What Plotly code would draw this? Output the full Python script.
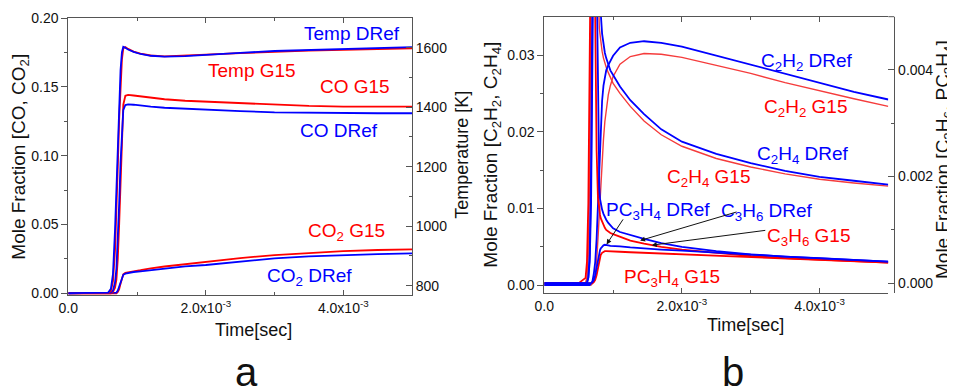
import plotly.graph_objects as go

W, H = 955, 390
OFF = 8  # browser body margin that offsets the figure inside the page
FW, FH = W - OFF, H - OFF
FONT = "Liberation Sans, Arial, sans-serif"
BLUE = "#0000ff"
RED = "#ff0000"
RED2 = "#f53c3c"

# ---------------- panel a data (time in ms) ----------------
t_a_ms = [0, 0.5, 0.58, 0.62, 0.65, 0.68, 0.70, 0.72, 0.74, 0.76, 0.78, 0.80, 0.83, 0.87,
          0.95, 1.05, 1.2, 1.4, 1.7, 2.0, 2.5, 3.0, 3.5, 4.0, 4.5, 5.0]
temp_dref = [775, 775, 777, 790, 840, 990, 1120, 1280, 1420, 1525, 1585, 1603, 1600, 1594,
             1586, 1579, 1573, 1570, 1572, 1577, 1583, 1589, 1592, 1595, 1599, 1602]
temp_g15 = [775, 775, 776, 782, 815, 920, 1040, 1200, 1360, 1480, 1560, 1598, 1602, 1596,
            1587, 1580, 1574, 1571, 1573, 1577, 1582, 1587, 1590, 1593, 1596, 1598]
co_dref = [0, 0, 0, 0.0005, 0.002, 0.008, 0.018, 0.038, 0.065, 0.095, 0.12, 0.133, 0.1368, 0.1373,
           0.137, 0.1363, 0.1356, 0.1348, 0.134, 0.1333, 0.1323, 0.1315, 0.1311, 0.1308, 0.1308, 0.1308]
co_g15 = [0, 0, 0, 0, 0.001, 0.004, 0.010, 0.025, 0.05, 0.085, 0.118, 0.137, 0.1435, 0.1441,
          0.1437, 0.143, 0.1421, 0.141, 0.1399, 0.1392, 0.138, 0.1368, 0.1361, 0.1356, 0.1356, 0.1356]
co2_dref = [0, 0, 0, 0, 0, 0, 0.0005, 0.002, 0.005, 0.009, 0.012, 0.0135, 0.0143, 0.0148,
            0.0155, 0.016, 0.0169, 0.0181, 0.0196, 0.0206, 0.0232, 0.0254, 0.0268, 0.0278, 0.0285, 0.029]
co2_g15 = [0, 0, 0, 0, 0, 0, 0, 0.001, 0.003, 0.007, 0.011, 0.0138, 0.0148, 0.0153,
           0.016, 0.0168, 0.0182, 0.0195, 0.0213, 0.023, 0.0256, 0.0278, 0.0294, 0.0307, 0.0315, 0.032]

# ---------------- panel b data (time in ms) ----------------
t_b_ms = [0, 0.5, 0.60, 0.62, 0.64, 0.66, 0.68, 0.70, 0.72, 0.74, 0.76, 0.78, 0.79, 0.80, 0.81,
          0.82, 0.84, 0.86, 0.88, 0.90, 0.93, 0.96, 1.0, 1.1, 1.25, 1.45, 1.7, 2.0, 2.5, 3.0,
          3.5, 4.0, 4.5, 5.0]
c2h2_dref = [0, 0, 0, 0, 0, 0, 0.0002, 0.0005, 0.0015, 0.003, 0.006, 0.011, 0.014, 0.0165, 0.019,
             0.0212, 0.024, 0.026, 0.0272, 0.028, 0.0287, 0.0293, 0.0299, 0.0310, 0.0316, 0.0318,
             0.0316, 0.0311, 0.0299, 0.0287, 0.0275, 0.0263, 0.0252, 0.0242]
c2h2_g15 = [0, 0, 0, 0, 0, 0, 0, 0.0002, 0.0005, 0.0012, 0.003, 0.006, 0.0078, 0.0095, 0.0115,
            0.0135, 0.0165, 0.019, 0.0213, 0.023, 0.0248, 0.026, 0.0272, 0.0288, 0.0298, 0.0302,
            0.0301, 0.0297, 0.0287, 0.0276, 0.0264, 0.0253, 0.0243, 0.0233]
c2h4_dref = [0, 0, 0, 0.0003, 0.001, 0.004, 0.015, 0.04, 0.06, 0.065, 0.06, 0.05, 0.045, 0.041, 0.038,
             0.0355, 0.0328, 0.0313, 0.0303, 0.0296, 0.0287, 0.0280, 0.0274, 0.0259, 0.0241, 0.0223,
             0.0203, 0.0187, 0.0171, 0.0159, 0.0149, 0.0141, 0.0136, 0.0131]
c2h4_g15 = [0, 0, 0.0003, 0.001, 0.004, 0.015, 0.04, 0.06, 0.062, 0.055, 0.047, 0.039, 0.035, 0.0335,
            0.0327, 0.0319, 0.0305, 0.0296, 0.0288, 0.0284, 0.0277, 0.0271, 0.0263, 0.025, 0.0233,
            0.0214, 0.0196, 0.0181, 0.0165, 0.0154, 0.0145, 0.0138, 0.0133, 0.0129]
c3h6_dref = [0, 0, 0, 0, 0.0001, 0.0004, 0.0015, 0.004, 0.007, 0.008, 0.006, 0.0032, 0.0023, 0.0018,
             0.00158, 0.00148, 0.00138, 0.0013, 0.00124, 0.00119, 0.00113, 0.00108, 0.00103, 0.00096,
             0.0009, 0.00083, 0.00075, 0.00068, 0.0006, 0.00054, 0.0005, 0.00047, 0.00044, 0.000405]
c3h6_g15 = [0, 0, 0.0001, 0.0004, 0.0015, 0.004, 0.007, 0.008, 0.0075, 0.005, 0.0025, 0.0016, 0.00145,
            0.00135, 0.00128, 0.00122, 0.00115, 0.00109, 0.00104, 0.001, 0.00097, 0.00094, 0.00092,
            0.00087, 0.0008, 0.00074, 0.00068, 0.00063, 0.00057, 0.00051, 0.00047, 0.00044, 0.00041,
            0.000385]
pc3h4_dref = [0, 0, 0, 0, 0, 0, 0, 0.00002, 0.00006, 0.00015, 0.0003, 0.00045, 0.00052, 0.00058,
              0.00062, 0.00065, 0.00069, 0.00071, 0.00072, 0.00072, 0.00071, 0.0007, 0.0007, 0.00069,
              0.00067, 0.00065, 0.00063, 0.00061, 0.00057, 0.00054, 0.0005, 0.00047, 0.00044, 0.000405]
pc3h4_g15 = [0, 0, 0, 0, 0, 0, 0, 0, 0.00002, 0.00006, 0.00015, 0.0003, 0.00038, 0.00045, 0.0005,
             0.00053, 0.00057, 0.00059, 0.0006, 0.0006, 0.0006, 0.0006, 0.00059, 0.00059, 0.00058,
             0.00057, 0.00056, 0.00054, 0.00052, 0.0005, 0.00047, 0.00044, 0.00041, 0.000385]

x_ticks = [0, 0.002, 0.004]
x_ticktext = ["0.0", "2.0x10<sup>-3</sup>", "4.0x10<sup>-3</sup>"]
x_minor = [0.001, 0.003, 0.005]

ta = [v * 1e-3 for v in t_a_ms]
tb = [v * 1e-3 for v in t_b_ms]

fig = go.Figure()


def line(x, y, color, xa, ya, width=1.8):
    fig.add_trace(go.Scatter(x=x, y=y, mode="lines", xaxis=xa, yaxis=ya,
                             line=dict(color=color, width=width), hoverinfo="skip"))


# panel a
line(ta, co2_g15, RED, "x", "y")
line(ta, co2_dref, BLUE, "x", "y")
line(ta, co_g15, RED, "x", "y")
line(ta, co_dref, BLUE, "x", "y")
line(ta, temp_g15, RED, "x", "y2")
line(ta, temp_dref, BLUE, "x", "y2")
# panel b
line(tb, c2h2_g15, RED2, "x2", "y3", 1.4)
line(tb, c2h4_g15, RED2, "x2", "y3", 1.4)
line(tb, c2h2_dref, BLUE, "x2", "y3")
line(tb, c2h4_dref, BLUE, "x2", "y3")
line(tb, pc3h4_g15, RED, "x2", "y4")
line(tb, c3h6_g15, RED, "x2", "y4")
line(tb, pc3h4_dref, BLUE, "x2", "y4")
line(tb, c3h6_dref, BLUE, "x2", "y4")


def px(x):
    return (x - OFF) / FW


def py(y):
    return 1 - (y - OFF) / FH


AX = "#555555"
tickfont = dict(family=FONT, size=14, color="#111")

common_x = dict(range=[0, 0.005], tickmode="array", tickvals=x_ticks, ticktext=x_ticktext,
                ticks="inside", ticklen=5, tickcolor=AX, showline=True, linecolor=AX,
                linewidth=1, mirror="ticks", showgrid=False, zeroline=False, tickfont=tickfont,
                automargin=False,
                minor=dict(tickmode="array", tickvals=x_minor, ticks="inside", ticklen=3,
                           tickcolor=AX))

fig.update_layout(
    template="none",
    width=FW, height=FH, margin=dict(l=0, r=0, t=0, b=0, pad=0, autoexpand=False),
    paper_bgcolor="white", plot_bgcolor="white", showlegend=False,
    font=dict(family=FONT, color="#111"),
    xaxis=dict(domain=[px(68.3), px(412)], anchor="y", **common_x),
    yaxis=dict(domain=[py(295), py(18)], anchor="x", range=[-0.0012, 0.2],
               tickmode="array", tickvals=[0, 0.05, 0.10, 0.15, 0.20],
               ticktext=["0.00", "0.05", "0.10", "0.15", "0.20"],
               ticks="outside", ticklen=6, tickcolor=AX, showline=True, linecolor=AX,
               showgrid=False, zeroline=False, tickfont=tickfont, automargin=False,
               minor=dict(tickmode="array", tickvals=[0.025, 0.075, 0.125, 0.175],
                          ticks="outside", ticklen=3, tickcolor=AX)),
    yaxis2=dict(overlaying="y", side="right", anchor="x", range=[768.7, 1700],
                tickmode="array", tickvals=[800, 1000, 1200, 1400, 1600],
                ticks="inside", ticklen=6, tickcolor=AX, showline=True, linecolor=AX,
                showgrid=False, zeroline=False, tickfont=tickfont, automargin=False,
                minor=dict(tickmode="array", tickvals=[900, 1100, 1300, 1500],
                           ticks="inside", ticklen=3, tickcolor=AX)),
    xaxis2=dict(domain=[px(544.3), px(888.3)], anchor="y3", **common_x),
    yaxis3=dict(domain=[py(293.3), py(16.7)], anchor="x2", range=[-0.00108, 0.035],
                tickmode="array", tickvals=[0, 0.01, 0.02, 0.03],
                ticktext=["0.00", "0.01", "0.02", "0.03"],
                ticks="outside", ticklen=6, tickcolor=AX, showline=True, linecolor=AX,
                showgrid=False, zeroline=False, tickfont=tickfont, automargin=False,
                minor=dict(tickmode="array", tickvals=[0.005, 0.015, 0.025],
                           ticks="outside", ticklen=3, tickcolor=AX)),
    yaxis4=dict(overlaying="y3", side="right", anchor="free", position=px(894.3),
                range=[-0.00019, 0.005],
                tickmode="array", tickvals=[0, 0.002, 0.004],
                ticktext=["0.000", "0.002", "0.004"],
                ticks="inside", ticklen=6, tickcolor=AX, showline=True, linecolor=AX,
                showgrid=False, zeroline=False, tickfont=tickfont, automargin=False,
                minor=dict(tickmode="array", tickvals=[0.001, 0.003, 0.005],
                           ticks="inside", ticklen=3, tickcolor=AX)),
)

# top frame extension to the offset right axis of panel b
fig.add_shape(type="line", xref="paper", yref="paper", x0=px(888.3), x1=px(894.3),
              y0=py(16.7), y1=py(16.7), line=dict(color=AX, width=1))

anns = []


def label(text, x, y, color, size=19, angle=0):
    anns.append(dict(text=text, x=px(x), y=py(y), xref="paper", yref="paper",
                     xanchor="center", yanchor="middle", showarrow=False, textangle=angle,
                     font=dict(family=FONT, size=size, color=color)))


# curve labels panel a
label("Temp DRef", 351.7, 33.3, BLUE)
label("Temp G15", 251.7, 70, RED)
label("CO G15", 355, 86, RED)
label("CO DRef", 339, 130, BLUE)
label("CO<sub>2</sub> G15", 346.7, 232, RED)
label("CO<sub>2</sub> DRef", 309, 277, BLUE)
# curve labels panel b
label("C<sub>2</sub>H<sub>2</sub> DRef", 806.7, 62, BLUE)
label("C<sub>2</sub>H<sub>2</sub> G15", 805, 108, RED)
label("C<sub>2</sub>H<sub>4</sub> DRef", 803.3, 155, BLUE)
label("C<sub>2</sub>H<sub>4</sub> G15", 708.3, 178, RED)
label("PC<sub>3</sub>H<sub>4</sub> DRef", 658.3, 211, BLUE)
label("C<sub>3</sub>H<sub>6</sub> DRef", 766.7, 212, BLUE)
label("C<sub>3</sub>H<sub>6</sub> G15", 808.3, 237, RED)
label("PC<sub>3</sub>H<sub>4</sub> G15", 672.3, 278, RED)

# axis titles
label("Mole Fraction [CO, CO<sub>2</sub>]", 20, 156.7, "#111", 19, -90)
label("Temperature [K]", 461.7, 155, "#111", 18, -90)
label("Time[sec]", 253.3, 330, "#111", 18)
label("Mole Fraction [C<sub>2</sub>H<sub>2</sub>, C<sub>2</sub>H<sub>4</sub>]", 491.7, 155, "#111", 19, -90)
label("Mole Fraction [C<sub>3</sub>H<sub>6</sub>, PC<sub>3</sub>H<sub>4</sub>]", 944, 160, "#111", 19, -90)
label("Time[sec]", 745, 325, "#111", 18)
# panel letters
label("a", 246.7, 372, "#111", 40)
label("b", 733.3, 372, "#111", 40)

# arrows (head on curve, tail near label)
arrow_style = dict(showarrow=True, arrowhead=2, arrowsize=1, arrowwidth=1, arrowcolor="#111",
                   text="", xref="x2", yref="y4", standoff=0)
anns.append(dict(x=0.905e-3, y=0.000728, ax=17.5, ay=-26.5, **arrow_style))
anns.append(dict(x=1.392e-3, y=0.00080, ax=98, ay=-29, **arrow_style))
anns.append(dict(x=1.562e-3, y=0.000713, ax=115, ay=-15, **arrow_style))

fig.update_layout(annotations=anns)

fig.write_html("out.html")
